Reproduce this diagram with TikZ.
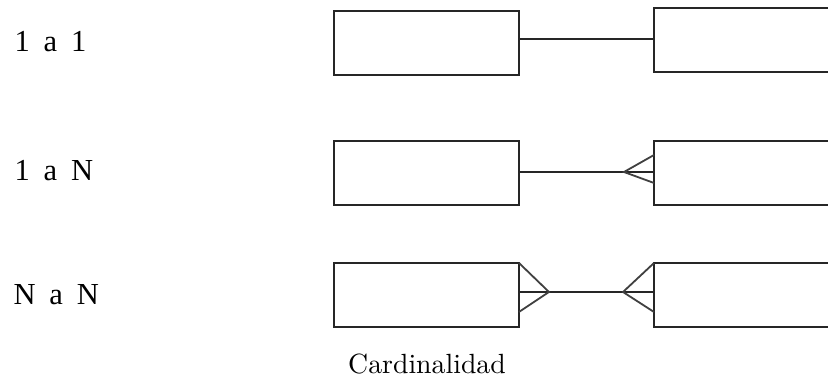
\documentclass[tikz,border=0pt]{standalone}
\usepackage{fontspec}
\newfontfamily\rowfont{Liberation Serif}
\usetikzlibrary{calc}
\begin{document}
\begin{tikzpicture}[x=0.36pt,y=-0.36pt,
  entity/.style={draw=black!85,line width=0.75pt,inner sep=0pt,outer sep=0pt,
    anchor=north west,minimum width=66.6pt,minimum height=23.04pt},
  link/.style={draw=black!85,line width=0.75pt},
  foot/.style={draw=black!75,line width=0.65pt},
  rowlabel/.style={anchor=base west,inner sep=0pt,font=\rowfont\fontsize{11pt}{13pt}\selectfont}]
\useasboundingbox (0,0) rectangle (828,392);

% row labels
\node[rowlabel] (t1) at (14,52)  {1\hspace{5pt}a\hspace{5pt}1};
\node[rowlabel] (t2) at (14,181) {1\hspace{5pt}a\hspace{5pt}N};
\node[rowlabel] (t3) at (13,305) {N\hspace{5pt}a\hspace{5pt}N};

% entity boxes
\node[entity] (l1) at (334,11)  {};
\node[entity,minimum width=68pt] (r1) at (654,8) {};
\node[entity] (l2) at (334,141) {};
\node[entity,minimum width=68pt] (r2) at (654,141) {};
\node[entity] (l3) at (334,263) {};
\node[entity,minimum width=68pt] (r3) at (654,263) {};

% levels of the connectors
\coordinate (y1) at (0,39);
\coordinate (y2) at (0,172);
\coordinate (y3) at (0,292);

% 1 a 1
\draw[link] (l1.east |- y1) -- (r1.west |- y1);

% 1 a N
\draw[link] (l2.east |- y2) -- (r2.west |- y2);
\coordinate (f2) at ($(r2.west |- y2)+(-30,0)$);
\draw[foot] ($(r2.west |- y2)+(0,-17)$) -- (f2) -- ($(r2.west |- y2)+(0,11)$);

% N a N
\draw[link] (l3.east |- y3) -- (r3.west |- y3);
\coordinate (f3l) at ($(l3.east |- y3)+(30,0)$);
\coordinate (f3r) at ($(r3.west |- y3)+(-31,0)$);
\draw[foot] (l3.north east) -- (f3l) -- ($(l3.east |- y3)+(0,20)$);
\draw[foot] (r3.north west) -- (f3r) -- ($(r3.west |- y3)+(0,20)$);

% caption
\node[anchor=base,inner sep=0pt] (cap) at (427,374) {Cardinalidad};
\end{tikzpicture}
\end{document}
